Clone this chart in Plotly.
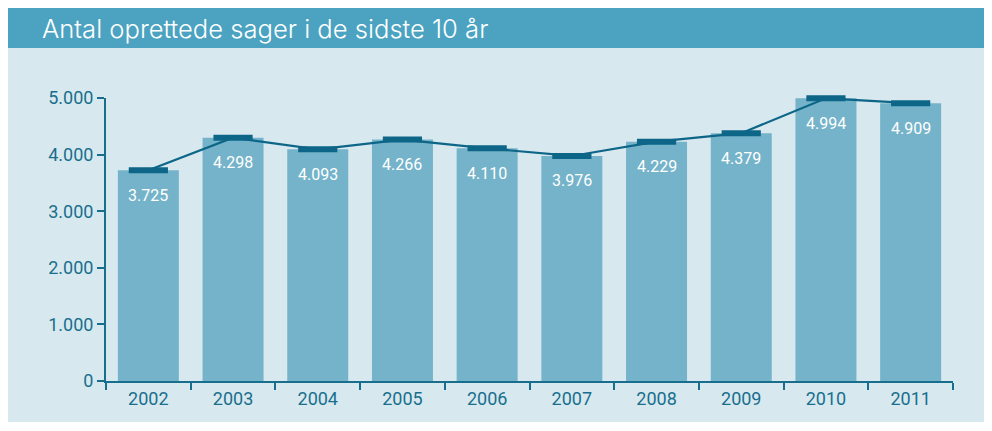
import plotly.graph_objects as go

years = ["2002", "2003", "2004", "2005", "2006", "2007", "2008", "2009", "2010", "2011"]
cases = [3725, 4298, 4093, 4266, 4110, 3976, 4229, 4379, 4994, 4909]
value_labels = ["3.725", "4.298", "4.093", "4.266", "4.110", "3.976", "4.229", "4.379", "4.994", "4.909"]
ytick_vals = [0, 1000, 2000, 3000, 4000, 5000]
ytick_labels = ["0", "1.000", "2.000", "3.000", "4.000", "5.000"]
title_text = "Antal oprettede sager i de sidste 10 år"

# page has an 8px body margin, so figure coords = window coords - 8
OFF = 8
W, H = 992 - OFF, 431 - OFF
L, R, T, B = 106 - OFF, 39, 98 - OFF, 50
pw, ph = W - L - R, H - T - B

def px(x):
    return (x - OFF - L) / pw

def py(y):
    return (H - B - (y - OFF)) / ph

TEAL = "#176f8d"
LINE = "#0d6687"
BAR = "#74b3c9"
PANEL = "#d8e8ef"
HEAD = "#4ba3c1"

fig = go.Figure()
fig.add_trace(go.Bar(x=years, y=cases, marker=dict(color=BAR, line=dict(width=0)),
                     hoverinfo="skip", showlegend=False))
fig.add_trace(go.Scatter(x=years, y=cases, mode="lines+markers",
                         line=dict(color=LINE, width=2.2),
                         marker=dict(symbol="line-ew", size=28, color=LINE,
                                     line=dict(color=LINE, width=6)),
                         cliponaxis=False, hoverinfo="skip", showlegend=False))

for i, (v, lab) in enumerate(zip(cases, value_labels)):
    fig.add_annotation(x=i, y=v, text=lab, showarrow=False, yshift=-25,
                       font=dict(color="white", size=16, family="Roboto"))

fig.add_annotation(xref="paper", yref="paper", x=px(40), y=py(28), xanchor="left",
                   yanchor="middle", text=title_text, showarrow=False,
                   font=dict(color="white", size=25.6, family="Inter", weight=300))

fig.update_layout(
    width=W, height=H,
    margin=dict(l=L, r=R, t=T, b=B, autoexpand=False),
    paper_bgcolor="white",
    plot_bgcolor="rgba(0,0,0,0)",
    bargap=0.28,
    shapes=[
        dict(type="rect", xref="paper", yref="paper", x0=px(8), x1=px(987),
             y0=py(422), y1=py(48), fillcolor=PANEL, line=dict(width=0), layer="below"),
        dict(type="rect", xref="paper", yref="paper", x0=px(8), x1=px(987),
             y0=py(48), y1=py(8), fillcolor=HEAD, line=dict(width=0), layer="below"),
    ],
    xaxis=dict(type="category", range=[-0.5, len(years) - 0.5], showgrid=False,
               showline=True, linecolor=TEAL, linewidth=2, tickangle=0,
               ticks="outside", tickson="boundaries", ticklen=7, tickwidth=2, tickcolor=TEAL,
               tickfont=dict(color=TEAL, size=18, family="Roboto"), zeroline=False),
    yaxis=dict(range=[0, 5000], showgrid=False, showline=True, linecolor=TEAL, linewidth=2,
               ticks="outside", ticklen=7, tickwidth=2, tickcolor=TEAL,
               tickvals=ytick_vals, ticktext=ytick_labels, zeroline=False,
               tickfont=dict(color=TEAL, size=18, family="Roboto")),
)

fig.write_html("out.html")
